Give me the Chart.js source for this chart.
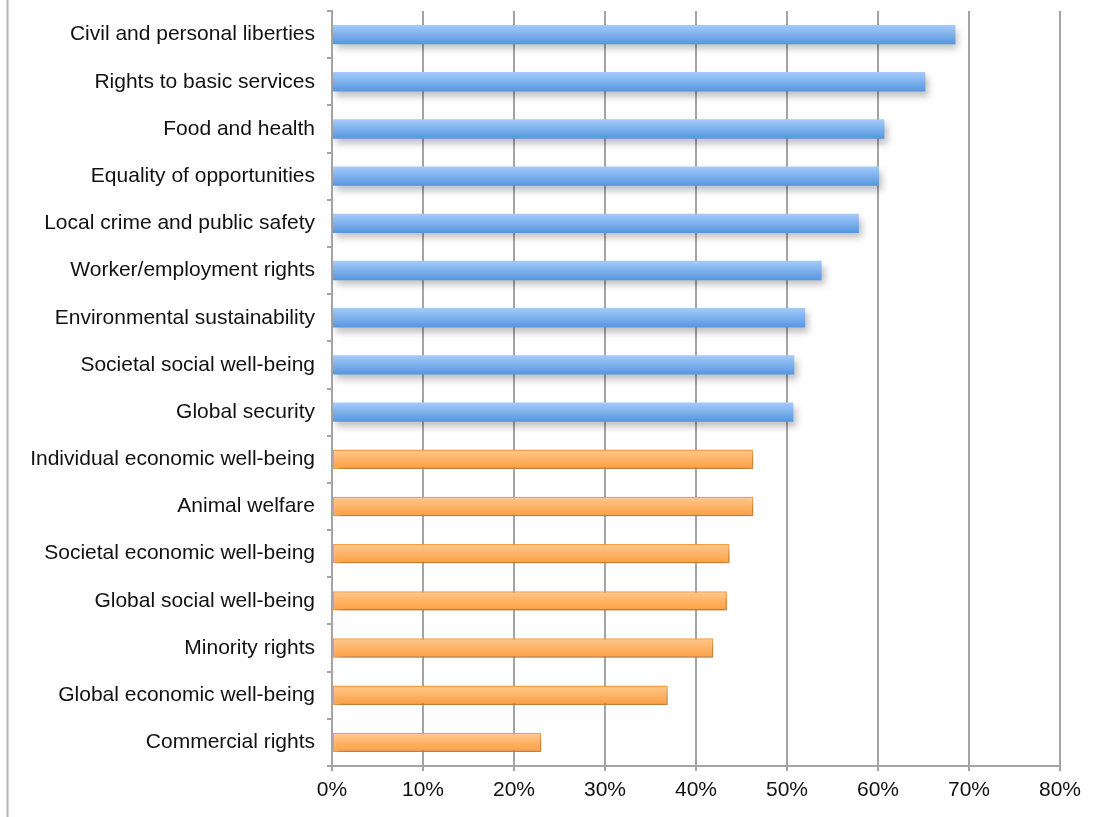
<!DOCTYPE html>
<html>
<head>
<meta charset="utf-8">
<title>Priorities</title>
<script src="https://cdn.jsdelivr.net/npm/chart.js@4.4.1/dist/chart.umd.min.js"></script>
<style>
  html, body { margin: 0; padding: 0; background: #fff; }
  #wrap { width: 1109px; height: 817px; position: relative; }
</style>
</head>
<body>
<div id="wrap"><canvas id="chart" width="1109" height="817"></canvas></div>
<script>
// Share of respondents naming each issue (percent)
const categories = [
  'Civil and personal liberties',
  'Rights to basic services',
  'Food and health',
  'Equality of opportunities',
  'Local crime and public safety',
  'Worker/employment rights',
  'Environmental sustainability',
  'Societal social well-being',
  'Global security',
  'Individual economic well-being',
  'Animal welfare',
  'Societal economic well-being',
  'Global social well-being',
  'Minority rights',
  'Global economic well-being',
  'Commercial rights'
];
const values = [68.5, 65.2, 60.7, 60.1, 57.9, 53.8, 52.0, 50.8, 50.7, 46.3, 46.3, 43.7, 43.4, 41.9, 36.9, 23.0];
// Which colour group each issue belongs to
const groups = ['a','a','a','a','a','a','a','a','a','b','b','b','b','b','b','b'];
const xTicks = [0, 10, 20, 30, 40, 50, 60, 70, 80];

const palette = {
  a: { top: '#a6cbfa', bottom: '#5596df', border: '#6fa6e8' },
  b: { top: '#ffc88e', bottom: '#fd9f40', border: '#f7a046' }
};

const BAR_FRACTION = 0.41;

function barGradient(ctx) {
  const chart = ctx.chart;
  const y = chart.scales.y;
  const p = palette[groups[ctx.dataIndex] || 'a'];
  if (!y || ctx.dataIndex === undefined) return p.bottom;
  const center = y.getPixelForValue(ctx.dataIndex);
  const band = Math.abs(y.getPixelForValue(1) - y.getPixelForValue(0));
  if (!isFinite(center) || !isFinite(band) || band === 0) return p.bottom;
  const half = band * BAR_FRACTION / 2;
  const g = chart.ctx.createLinearGradient(0, center - half, 0, center + half);
  g.addColorStop(0, p.top);
  g.addColorStop(1, p.bottom);
  return g;
}

// Soft drop shadow under the bars
const barShadow = {
  id: 'barShadow',
  beforeDatasetsDraw(chart) {
    const c = chart.ctx;
    c.save();
    c.shadowColor = 'rgba(0,0,0,0.25)';
    c.shadowBlur = 7;
    c.shadowOffsetX = 3;
    c.shadowOffsetY = 5;
  },
  afterDatasetsDraw(chart) {
    chart.ctx.restore();
  }
};

// Thin frame line on the left edge of the page
const leftRule = {
  id: 'leftRule',
  afterDraw(chart) {
    const c = chart.ctx;
    c.save();
    c.strokeStyle = '#b4b4b4';
    c.lineWidth = 2;
    c.beginPath();
    c.moveTo(7.5, 0);
    c.lineTo(7.5, chart.height);
    c.stroke();
    c.restore();
  }
};

const font = { family: '"Liberation Sans", Arial, Helvetica, sans-serif', size: 21 };

new Chart(document.getElementById('chart'), {
  type: 'bar',
  data: {
    labels: categories,
    datasets: [{
      data: values,
      backgroundColor: barGradient,
      borderColor: (ctx) => palette[groups[ctx.dataIndex] || 'a'].border,
      borderWidth: (ctx) => groups[ctx.dataIndex] === 'b' ? 1.5 : 0,
      borderSkipped: false,
      barPercentage: BAR_FRACTION,
      categoryPercentage: 1.0
    }]
  },
  options: {
    indexAxis: 'y',
    responsive: false,
    animation: false,
    layout: { padding: { top: 11, right: 49, left: 0, bottom: 0 } },
    plugins: {
      legend: { display: false },
      tooltip: { enabled: false }
    },
    scales: {
      x: {
        min: 0,
        max: 80,
        afterBuildTicks(scale) {
          scale.ticks = xTicks.map(v => ({ value: v }));
        },
        afterFit(scale) { scale.height = 51; },
        ticks: {
          callback: (v) => v + '%',
          color: '#111',
          font: font,
          padding: 7,
          maxRotation: 0
        },
        grid: {
          color: '#a4a4a4',
          lineWidth: 2,
          tickLength: 5,
          drawTicks: true
        },
        border: { display: true, color: '#a4a4a4', width: 2 }
      },
      y: {
        afterFit(scale) {
          scale.width = 332;
          scale.paddingTop = 0;
          scale.paddingBottom = 0;
        },
        ticks: {
          color: '#111',
          font: font,
          padding: 12,
          autoSkip: false
        },
        grid: {
          offset: true,
          drawOnChartArea: false,
          drawTicks: true,
          tickLength: 5,
          color: '#a4a4a4',
          lineWidth: 2
        },
        border: { display: true, color: '#a4a4a4', width: 2 }
      }
    }
  },
  plugins: [barShadow, leftRule]
});
</script>
</body>
</html>
